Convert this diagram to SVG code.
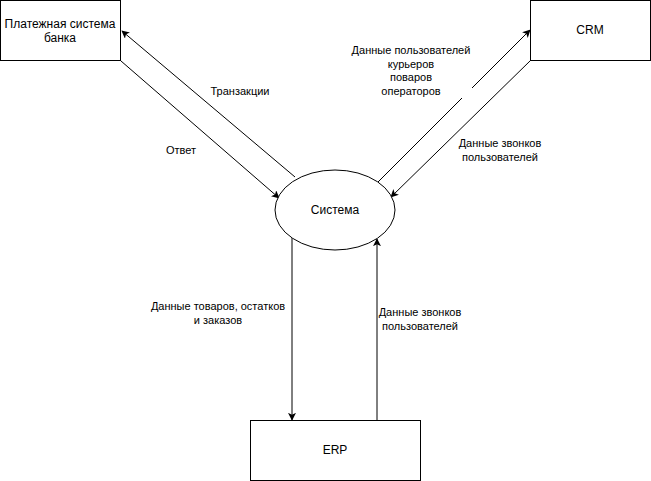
<svg xmlns="http://www.w3.org/2000/svg" width="651" height="481" viewBox="0 0 651 481">
<style>
.node{fill:#fff;stroke:#000;stroke-width:1}
.edge{fill:none;stroke:#000;stroke-width:1}
.nt{font-family:"Liberation Sans",Arial,sans-serif;font-size:12px;fill:#000;text-anchor:middle}
.lt{font-family:"Liberation Sans",Arial,sans-serif;font-size:11px;fill:#000;text-anchor:middle}
</style>
<defs>
<marker id="arr" viewBox="0 0 10 10" refX="9" refY="5" markerWidth="8" markerHeight="8" markerUnits="userSpaceOnUse" orient="auto">
<path d="M0,0 L10,5 L0,10 L2.5,5 Z" fill="#000"/>
</marker>
</defs>
<rect width="651" height="481" fill="#fff"/>
<g id="connectors">
<path class="edge" d="M295,177 L122,31" marker-end="url(#arr)"/>
<path class="edge" d="M121,61 L279,198" marker-end="url(#arr)"/>
<path class="edge" d="M378,182 L462,98"/>
<path class="edge" d="M472,88 L530,30" marker-end="url(#arr)"/>
<path class="edge" d="M531,60 L391,197" marker-end="url(#arr)"/>
<path class="edge" d="M292,238 L292,420" marker-end="url(#arr)"/>
<path class="edge" d="M377,420 L377,239" marker-end="url(#arr)"/>
</g>
<g id="labels">
<text class="lt" x="240" y="95">Транзакции</text>
<text class="lt" x="181" y="154">Ответ</text>
<text class="lt" x="411" y="54">Данные пользователей</text>
<text class="lt" x="411" y="68">курьеров</text>
<text class="lt" x="411" y="81">поваров</text>
<text class="lt" x="411" y="95">операторов</text>
<text class="lt" x="500" y="147">Данные звонков</text>
<text class="lt" x="500" y="161">пользователей</text>
<text class="lt" x="218" y="310">Данные товаров, остатков</text>
<text class="lt" x="218" y="324">и заказов</text>
<text class="lt" x="420" y="316">Данные звонков</text>
<text class="lt" x="420" y="330">пользователей</text>
</g>
<g id="bank">
<rect class="node" x="0.5" y="0.5" width="120" height="60"/>
<text class="nt" x="60" y="28">Платежная система</text>
<text class="nt" x="60" y="42">банка</text>
</g>
<g id="crm">
<rect class="node" x="530.5" y="0.5" width="120" height="60"/>
<text class="nt" x="590" y="34">CRM</text>
</g>
<g id="system">
<ellipse class="node" cx="335" cy="210" rx="60" ry="40"/>
<text class="nt" x="335" y="214">Система</text>
</g>
<g id="erp">
<rect class="node" x="250.5" y="420.5" width="170" height="60"/>
<text class="nt" x="335" y="454">ERP</text>
</g>
</svg>
